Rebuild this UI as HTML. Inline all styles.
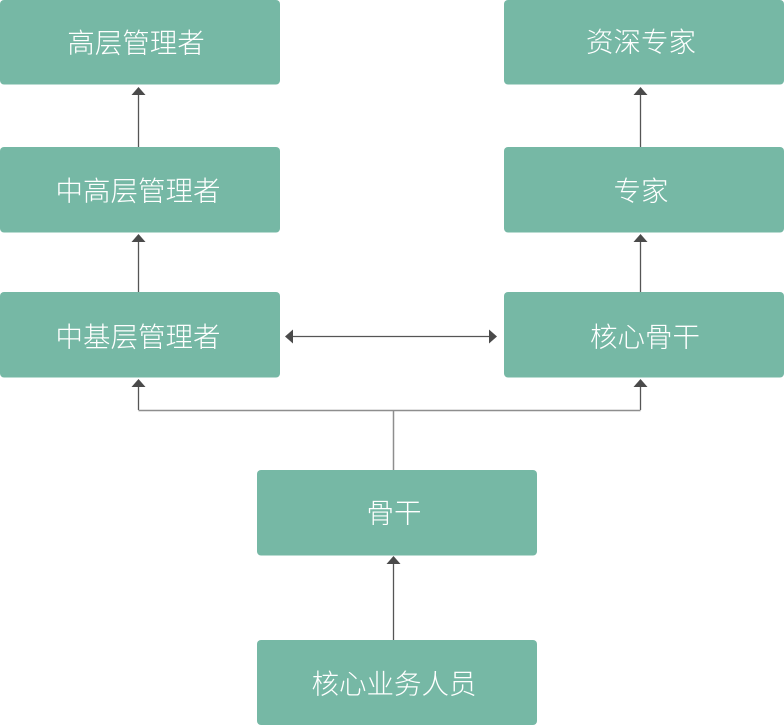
<!DOCTYPE html>
<html><head><meta charset="utf-8"><style>
html,body{margin:0;padding:0;background:#fff;width:784px;height:725px;overflow:hidden}
svg{display:block}
text{font-family:"Liberation Sans","Noto Sans CJK SC","WenQuanYi Zen Hei",sans-serif;font-size:27.5px;fill:#ffffff;font-weight:300;text-anchor:middle;dominant-baseline:central}
</style></head><body>
<svg width="784" height="725" viewBox="0 0 784 725" xmlns="http://www.w3.org/2000/svg">
<g fill="#76b8a5">
<rect x="0" y="0" width="280" height="84.5" rx="4"/>
<rect x="0" y="147" width="280" height="85.5" rx="4"/>
<rect x="0" y="292" width="280" height="85.5" rx="4"/>
<rect x="504" y="0" width="280" height="84.5" rx="4"/>
<rect x="504" y="147" width="280" height="85.5" rx="4"/>
<rect x="504" y="292" width="280" height="85.5" rx="4"/>
<rect x="257" y="470" width="280" height="85.5" rx="4"/>
<rect x="257" y="640" width="280" height="85" rx="4"/>
</g>
<g stroke="#555" stroke-width="1.3" fill="none">
<line x1="138.5" y1="147" x2="138.5" y2="94"/>
<line x1="138.5" y1="292" x2="138.5" y2="241"/>
<line x1="640.5" y1="147" x2="640.5" y2="94"/>
<line x1="640.5" y1="292" x2="640.5" y2="241"/>
<line x1="393.5" y1="640" x2="393.5" y2="564"/>
<line x1="292" y1="336.5" x2="490" y2="336.5"/>
<line x1="138.5" y1="410" x2="138.5" y2="386"/>
<line x1="640.5" y1="410" x2="640.5" y2="386"/>
</g>
<g stroke="#8e8e8e" stroke-width="1.5" fill="none">
<line x1="138.5" y1="410.5" x2="640.5" y2="410.5"/>
<line x1="393.5" y1="410.5" x2="393.5" y2="470"/>
</g>
<g fill="#4a4a4a">
<polygon points="138.5,87 131.5,95 145.5,95"/>
<polygon points="138.5,234 131.5,242 145.5,242"/>
<polygon points="640.5,87 633.5,95 647.5,95"/>
<polygon points="640.5,234 633.5,242 647.5,242"/>
<polygon points="138.5,379 131.5,387 145.5,387"/>
<polygon points="640.5,379 633.5,387 647.5,387"/>
<polygon points="393.5,556 386.5,564 400.5,564"/>
<polygon points="285,336.5 293,329.5 293,343.5"/>
<polygon points="497,336.5 489,329.5 489,343.5"/>
</g>
<text x="136" y="43">高层管理者</text>
<text x="138" y="191">中高层管理者</text>
<text x="138" y="337">中基层管理者</text>
<text x="641" y="42">资深专家</text>
<text x="641" y="191">专家</text>
<text x="645" y="337">核心骨干</text>
<text x="394" y="513">骨干</text>
<text x="394" y="684">核心业务人员</text>
</svg>
</body></html>
